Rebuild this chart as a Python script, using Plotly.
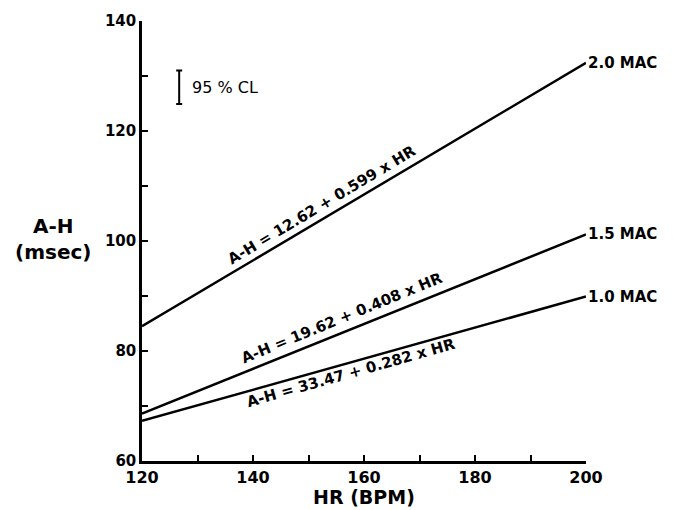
import plotly.graph_objects as go

# Data
hr = [120, 200]
ah_mac20 = [84.5, 132.4]
ah_mac15 = [68.6, 101.2]
ah_mac10 = [67.3, 89.9]
series_labels = ["2.0 MAC", "1.5 MAC", "1.0 MAC"]
equations = ["A-H = 12.62 + 0.599 x HR",
             "A-H = 19.62 + 0.408 x HR",
             "A-H = 33.47 + 0.282 x HR"]
eq_x = [152.4, 156.0, 157.6]
eq_y = [106.5, 86.0, 76.0]
eq_angle = [-31, -22.3, -15.8]

cl_x = [126.7]
cl_mid = [127.95]
cl_half = [3.05]

x_ticks = [120, 130, 140, 150, 160, 170, 180, 190, 200]
x_ticktext = ["120", "", "140", "", "160", "", "180", "", "200"]
y_ticks = [60, 70, 80, 90, 100, 110, 120, 130, 140]
y_ticktext = ["60", "", "80", "", "100", "", "120", "", "140"]

FONT = "DejaVu Sans"
plot_l, plot_r, plot_t, plot_b = 142, 586, 15, 461

fig = go.Figure()
for ys in (ah_mac20, ah_mac15, ah_mac10):
    fig.add_trace(go.Scatter(x=hr, y=ys, mode="lines",
                             line=dict(color="black", width=2.5),
                             showlegend=False, hoverinfo="skip"))

fig.add_trace(go.Scatter(x=cl_x, y=cl_mid, mode="markers",
                         marker=dict(size=1, color="rgba(0,0,0,0)"),
                         error_y=dict(type="data", array=cl_half, visible=True,
                                      color="black", thickness=2, width=3),
                         showlegend=False, hoverinfo="skip"))

annotations = []
for lab, ys in zip(series_labels, (ah_mac20, ah_mac15, ah_mac10)):
    annotations.append(dict(x=hr[-1], y=ys[-1], xref="x", yref="y", text=lab,
                            showarrow=False, xanchor="left", yanchor="middle", xshift=2,
                            borderpad=0, borderwidth=0,
                            font=dict(family=FONT, size=15, color="black", weight="bold")))
for t, xx, yy, ang in zip(equations, eq_x, eq_y, eq_angle):
    annotations.append(dict(x=xx, y=yy, xref="x", yref="y", text=t,
                            showarrow=False, textangle=ang,
                            font=dict(family=FONT, size=15, color="black", weight="bold")))
annotations.append(dict(x=cl_x[0], y=cl_mid[0], xref="x", yref="y", text="95 % CL",
                        showarrow=False, xanchor="left", yanchor="middle", xshift=11,
                        font=dict(family=FONT, size=16, color="black")))
annotations.append(dict(x=(53 - plot_l) / (plot_r - plot_l), y=(plot_b - 236) / (plot_b - plot_t),
                        xref="paper", yref="paper", text="A-H<br>(msec)",
                        showarrow=False, xanchor="center", yanchor="middle",
                        font=dict(family=FONT, size=20, color="black", weight="bold")))
annotations.append(dict(x=0.5, y=(plot_b - 497) / (plot_b - plot_t), xref="paper", yref="paper",
                        text="HR (BPM)",
                        showarrow=False, xanchor="center", yanchor="middle",
                        font=dict(family=FONT, size=19, color="black", weight="bold")))

fig.update_layout(
    width=673, height=510,
    margin=dict(l=plot_l, r=673 - plot_r, t=plot_t, b=510 - plot_b),
    plot_bgcolor="white", paper_bgcolor="white",
    annotations=annotations,
    xaxis=dict(range=[120, 200], tickvals=x_ticks, ticktext=x_ticktext,
               showgrid=False, zeroline=False, showline=True, linecolor="black", linewidth=2.5,
               ticks="inside", ticklen=6, tickwidth=2, tickcolor="black",
               tickfont=dict(family=FONT, size=16, color="black", weight="bold")),
    yaxis=dict(range=[60, 140], tickvals=y_ticks, ticktext=y_ticktext,
               showgrid=False, zeroline=False, showline=True, linecolor="black", linewidth=2.5,
               ticks="inside", ticklen=6, tickwidth=2, tickcolor="black",
               tickfont=dict(family=FONT, size=15, color="black", weight="bold")),
)

fig.write_html("out.html", config={"displayModeBar": False},
               post_script="document.body.style.margin='0px';document.body.style.padding='0px';")
